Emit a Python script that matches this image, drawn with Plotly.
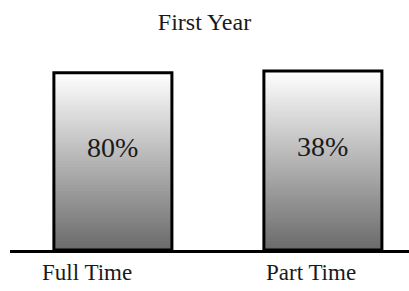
import plotly.graph_objects as go

categories = ["Full Time", "Part Time"]
percent_values = [80, 38]
percent_labels = ["80%", "38%"]
bar_heights = [99, 100]
title_text = "First Year"

FONT = "Liberation Serif, Times New Roman, serif"
N = 60
top_gray, bottom_gray = 255, 106

fig = go.Figure()
xs = [0, 1]
for i in range(N):
    frac_mid = (i + 0.5) / N
    g = int(round(bottom_gray + (top_gray - bottom_gray) * frac_mid))
    col = f"rgb({g},{g},{g})"
    bases = [h * i / N for h in bar_heights]
    tops = [min(h, h * (i + 1.6) / N) for h in bar_heights]
    fig.add_trace(go.Bar(
        x=xs, y=[t - b for t, b in zip(tops, bases)], base=bases,
        width=0.562, marker=dict(color=col, line=dict(width=0)),
        hoverinfo="skip", showlegend=False))

fig.add_trace(go.Bar(
    x=xs, y=bar_heights, width=0.562,
    marker=dict(color="rgba(0,0,0,0)", line=dict(color="black", width=3)),
    showlegend=False, customdata=percent_values))

for xi, h, lab in zip(xs, bar_heights, percent_labels):
    fig.add_annotation(x=xi, y=h * 0.58, xref="x", yref="y", text=lab,
                       showarrow=False, font=dict(family=FONT, size=28, color="#1a1a1a"))

for xi, cat, sh in zip(xs, categories, [-26, -12]):
    fig.add_annotation(x=xi, y=0, xref="x", yref="y", text=cat, yanchor="top",
                       yshift=-8, xshift=sh, showarrow=False,
                       font=dict(family=FONT, size=23, color="#1a1a1a"))

fig.update_layout(
    width=409, height=291, barmode="overlay",
    margin=dict(l=10, r=0, t=40, b=41),
    paper_bgcolor="white", plot_bgcolor="white",
    title=dict(text=title_text, x=0.5, xanchor="center", y=0.925, yanchor="middle",
               font=dict(family=FONT, size=24, color="#1a1a1a")),
    xaxis=dict(range=[-0.49, 1.41], showticklabels=False, showgrid=False, zeroline=False,
               showline=True, linecolor="black", linewidth=3, ticks=""),
    yaxis=dict(range=[0, 117.3], visible=False),
)

fig.write_html("out.html", config={"displayModeBar": False},
               post_script="document.body.style.margin='0';document.body.style.overflow='hidden';")
